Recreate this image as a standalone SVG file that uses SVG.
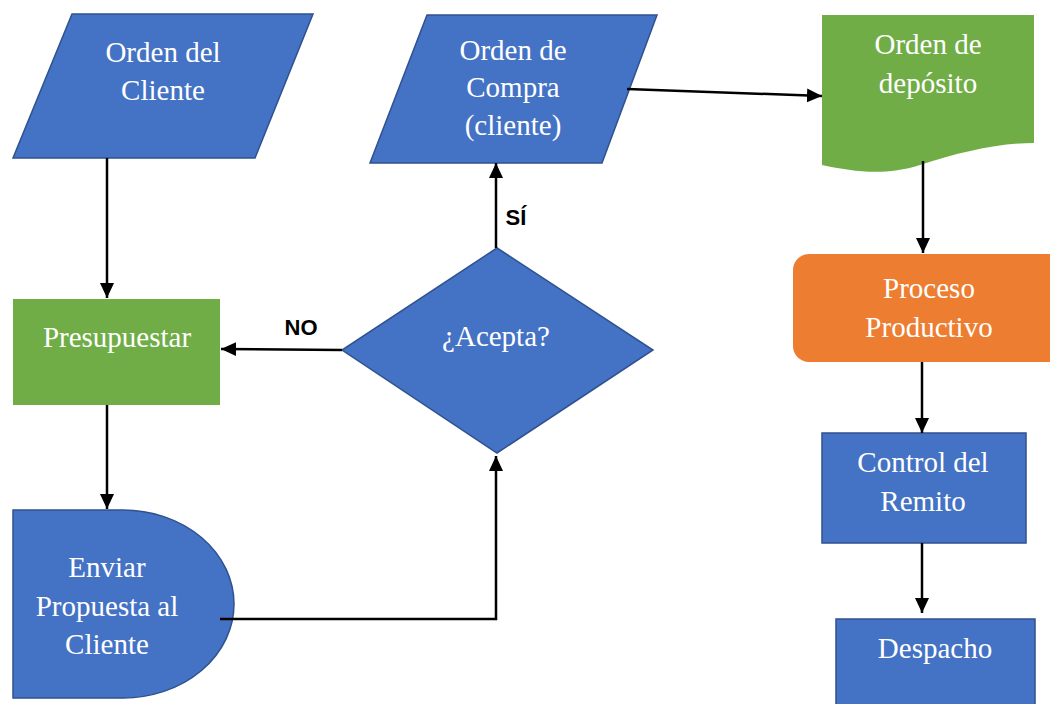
<svg xmlns="http://www.w3.org/2000/svg" width="1050" height="704" viewBox="0 0 1050 704">
<defs>
<style>
.blue{fill:#4472C4;stroke:#2F528F;stroke-width:1.5}
.green{fill:#70AD47}
.orange{fill:#ED7D31}
.t{font-family:"Liberation Serif","Times New Roman",serif;font-size:29px;fill:#fff;text-anchor:middle}
.lbl{font-family:"Liberation Sans",Arial,sans-serif;font-size:22px;font-weight:bold;fill:#000;text-anchor:middle}
.c{fill:none;stroke:#000;stroke-width:2.5}
</style>
<marker id="ah" markerUnits="userSpaceOnUse" markerWidth="16" markerHeight="16" viewBox="0 0 16 16" refX="15" refY="8" orient="auto">
<path d="M0,1 L15,8 L0,15 Z" fill="#000"/>
</marker>
</defs>
<rect width="1050" height="704" fill="#fff"/>

<g id="orden-cliente">
<polygon class="blue" points="72,14 313,14 255,158 13,158"/>
<text class="t" x="163" y="62">Orden del</text>
<text class="t" x="163" y="100">Cliente</text>
</g>

<g id="orden-compra">
<polygon class="blue" points="427,15 657,15 602,163 370,163"/>
<text class="t" x="513" y="60">Orden de</text>
<text class="t" x="513" y="97">Compra</text>
<text class="t" x="513" y="135">(cliente)</text>
</g>

<g id="orden-deposito">
<path class="green" d="M822,15 H1034 V143 C1000,143 960,152 920,165 C885,176 855,172 822,165 Z"/>
<text class="t" x="928" y="54">Orden de</text>
<text class="t" x="928" y="93">depósito</text>
</g>

<g id="presupuestar">
<rect class="green" x="13" y="299" width="207" height="106"/>
<text class="t" x="117" y="347">Presupuestar</text>
</g>

<g id="acepta">
<polygon class="blue" points="497,248 653,350 497,453 342,350"/>
<text class="t" x="496" y="346">¿Acepta?</text>
</g>

<g id="enviar">
<path class="blue" d="M13,510 H123 A111,94 0 0 1 123,698 H13 Z"/>
<text class="t" x="107" y="577">Enviar</text>
<text class="t" x="107" y="616">Propuesta al</text>
<text class="t" x="107" y="654">Cliente</text>
</g>

<g id="proceso">
<rect class="orange" x="793" y="254" width="275" height="108" rx="16" ry="16"/>
<text class="t" x="929" y="298">Proceso</text>
<text class="t" x="929" y="337">Productivo</text>
</g>

<g id="control">
<rect class="blue" x="822" y="433" width="204" height="110"/>
<text class="t" x="923" y="472">Control del</text>
<text class="t" x="923" y="511">Remito</text>
</g>

<g id="despacho">
<rect class="blue" x="836" y="619" width="199" height="100"/>
<text class="t" x="935" y="658">Despacho</text>
</g>

<g id="connectors">
<line class="c" x1="107" y1="158" x2="107" y2="298" marker-end="url(#ah)"/>
<line class="c" x1="107" y1="405" x2="107" y2="509" marker-end="url(#ah)"/>
<line class="c" x1="342" y1="350" x2="221" y2="349" marker-end="url(#ah)"/>
<line class="c" x1="496" y1="248" x2="496" y2="163" marker-end="url(#ah)"/>
<path class="c" d="M220,619 H496 V456" marker-end="url(#ah)"/>
<line class="c" x1="627" y1="89" x2="822" y2="96" marker-end="url(#ah)"/>
<line class="c" x1="923" y1="161" x2="923" y2="253" marker-end="url(#ah)"/>
<line class="c" x1="922" y1="362" x2="922" y2="433" marker-end="url(#ah)"/>
<line class="c" x1="922" y1="543" x2="922" y2="613" marker-end="url(#ah)"/>
<text class="lbl" x="301" y="335">NO</text>
<text class="lbl" x="516" y="225">SÍ</text>
</g>
</svg>
